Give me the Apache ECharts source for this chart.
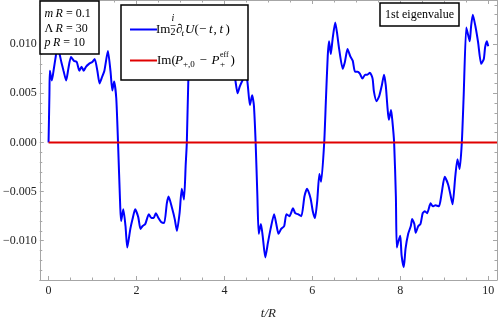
<!DOCTYPE html>
<html>
<head>
<meta charset="utf-8">
<script src="https://cdn.jsdelivr.net/npm/echarts@6/dist/echarts.min.js"></script>
<style>
  html, body { margin: 0; padding: 0; background: #fff; }
  #chart { width: 498px; height: 325px; }
</style>
</head>
<body>
<div id="chart"></div>
<script>
// blue curve: Im (i/2) d_t U(-t,t)
const blueT = [
  0, 0.02, 0.03, 0.075, 0.12, 0.165, 0.2, 0.24, 0.29, 0.34, 0.40, 0.45, 0.51, 0.58, 0.64, 0.70,
  0.75, 0.80, 0.85, 0.92, 0.995, 1.05, 1.11, 1.16, 1.22, 1.27, 1.35, 1.41, 1.45, 1.49, 1.54, 1.58,
  1.63, 1.65, 1.70, 1.75, 1.79, 1.86, 1.91, 1.97, 2.04, 2.09, 2.14, 2.20, 2.28, 2.34, 2.39, 2.44,
  2.50, 2.56, 2.63, 2.69, 2.73, 2.81, 2.87, 2.92, 2.98, 3.03, 3.08, 3.12, 3.145,
  3.18, 3.22, 3.30, 3.40, 3.50, 3.60, 3.70, 3.80, 3.90, 4.00, 4.10, 4.20, 4.25, 4.30, 4.35, 4.41,
  4.47, 4.52, 4.58, 4.63, 4.67, 4.71,
  4.75, 4.78, 4.83, 4.87, 4.93, 4.99, 5.05, 5.13, 5.18, 5.23, 5.29, 5.36, 5.41, 5.48, 5.56, 5.61,
  5.67, 5.75, 5.82, 5.88, 5.96, 6.01, 6.06, 6.11, 6.16, 6.20, 6.27,
  6.31, 6.35, 6.38, 6.42, 6.46, 6.52, 6.56, 6.61, 6.69, 6.74, 6.80, 6.86, 6.92, 6.97, 7.03, 7.08,
  7.14, 7.20, 7.25, 7.31, 7.37, 7.40, 7.46, 7.52, 7.58, 7.63, 7.67, 7.71, 7.74, 7.79, 7.82, 7.86,
  7.90, 7.92, 7.96, 8.00, 8.03, 8.08, 8.12, 8.18, 8.24, 8.27, 8.32, 8.35, 8.41, 8.46, 8.51, 8.56,
  8.61, 8.69, 8.74, 8.80, 8.88, 8.94, 9.01, 9.09, 9.14, 9.19, 9.25, 9.30, 9.35, 9.40,
  9.44, 9.50, 9.53, 9.58, 9.61, 9.65, 9.71, 9.77, 9.84, 9.90, 9.93, 9.97, 10.0
];
const blueV = [
  0, 0.0050, 0.0073, 0.0063, 0.0075, 0.0088, 0.0097, 0.0092, 0.0082, 0.0073, 0.0063, 0.0075, 0.0087, 0.0083, 0.0082, 0.0073,
  0.0077, 0.0073, 0.0077, 0.0080, 0.0082, 0.0085, 0.0073, 0.0060, 0.0067, 0.0073, 0.0093, 0.0072, 0.0053, 0.0062, 0.0045, 0,
  -0.0065, -0.0080, -0.0068, -0.0085, -0.0107, -0.0088, -0.0078, -0.0068, -0.0076, -0.0088, -0.0085, -0.0083, -0.0073, -0.0077, -0.0077, -0.0072,
  -0.0077, -0.0081, -0.0082, -0.0062, -0.0055, -0.0067, -0.0078, -0.0090, -0.0072, -0.0047, -0.0058, -0.0022, 0,
  0.0065, 0.0100, 0.0112, 0.0095, 0.0085, 0.0090, 0.0080, 0.0085, 0.0078, 0.0082, 0.0075, 0.0078, 0.0063, 0.0050, 0.0057, 0.0063,
  0.0068, 0.0063, 0.0038, 0.0048, 0.0038, 0,
  -0.0055, -0.0093, -0.0083, -0.0095, -0.0117, -0.0102, -0.0088, -0.0073, -0.0083, -0.0093, -0.0088, -0.0085, -0.0073, -0.0075, -0.0067, -0.0072,
  -0.0073, -0.0075, -0.0055, -0.0047, -0.0057, -0.0070, -0.0077, -0.0060, -0.0032, -0.0040, 0,
  0.0045, 0.0088, 0.0103, 0.0090, 0.0105, 0.0122, 0.0112, 0.0095, 0.0075, 0.0082, 0.0095, 0.0088, 0.0083, 0.0072, 0.0072, 0.0070,
  0.0065, 0.0069, 0.0069, 0.0071, 0.0065, 0.0052, 0.0042, 0.0047, 0.0058, 0.0069, 0.0058, 0.0035, 0.0023, 0.0033, 0.0022, 0,
  -0.0055, -0.0107, -0.0100, -0.0095, -0.0115, -0.0127, -0.0108, -0.0093, -0.0085, -0.0078, -0.0083, -0.0092, -0.0085, -0.0083, -0.0072, -0.0070,
  -0.0072, -0.0062, -0.0065, -0.0064, -0.0065, -0.0052, -0.0035, -0.0043, -0.0053, -0.0063, -0.0035, -0.0017, -0.0027, 0,
  0.0045, 0.0117, 0.0112, 0.0103, 0.0118, 0.0130, 0.0118, 0.0102, 0.0080, 0.0085, 0.0097, 0.0103, 0.0098
];
// red line: Im(P_{+,0} - P_+^eff)
const redT = [0, 10.2];
const redV = [0, 0];

const xRange = [-0.2, 10.2];
const yRange = [-0.014, 0.0145];

const serif = 'Liberation Serif';
const frameGray = '#a6a6a6';

const chart = echarts.init(document.getElementById('chart'));

const fmtY = (v) => {
  const s = Math.abs(v).toFixed(3);
  return v < -1e-9 ? '\u2212' + s : s;
};

const baseX = {
  type: 'value',
  min: xRange[0],
  max: xRange[1],
  splitLine: { show: false },
  axisLine: { onZero: false, lineStyle: { color: frameGray, width: 1 } },
  axisTick: { inside: true, length: 4, lineStyle: { color: frameGray } },
  minorTick: { show: true, splitNumber: 4, length: 2.5, lineStyle: { color: frameGray } }
};
const baseY = {
  type: 'value',
  min: yRange[0],
  max: yRange[1],
  splitLine: { show: false },
  axisLine: { show: true, onZero: false, lineStyle: { color: frameGray, width: 1 } },
  axisTick: { show: true, inside: true, length: 4, lineStyle: { color: frameGray } },
  minorTick: { show: true, splitNumber: 5, length: 2.5, lineStyle: { color: frameGray } }
};

// text piece helper for the boxed annotations
const txt = (x, y, text, size, italic, extra) => ({
  type: 'text',
  z: 101,
  x: x,
  y: y,
  style: Object.assign({
    text: text,
    fill: '#000',
    font: (italic ? 'italic ' : '') + size + 'px "' + serif + '"',
    verticalAlign: 'middle'
  }, extra || {})
});
const itRich = { i: { fontStyle: 'italic', fontFamily: serif, fontSize: 12 } };

option = {
  animation: false,
  grid: { left: 37, right: 1, top: 0, bottom: 40 },
  xAxis: [
    Object.assign({}, baseX, {
      position: 'bottom',
      axisLabel: {
        color: '#222', fontFamily: serif, fontSize: 12, margin: 5,
        showMinLabel: false, showMaxLabel: false
      },
      name: 't/R',
      nameLocation: 'middle',
      nameGap: 27,
      nameTextStyle: { fontFamily: serif, fontSize: 13, fontStyle: 'italic', color: '#222' }
    }),
    Object.assign({}, baseX, { position: 'top', axisLabel: { show: false } })
  ],
  yAxis: [
    Object.assign({}, baseY, {
      position: 'left',
      axisLabel: {
        color: '#222', fontFamily: serif, fontSize: 12, margin: 3,
        showMinLabel: false, showMaxLabel: false,
        formatter: fmtY
      }
    }),
    Object.assign({}, baseY, { position: 'right', axisLabel: { show: false } })
  ],
  series: [
    {
      name: 'blue',
      type: 'line',
      xAxisIndex: 0,
      yAxisIndex: 0,
      showSymbol: false,
      smooth: 0.2,
      lineStyle: { color: '#0000ff', width: 2 },
      data: blueT.map((t, i) => [t, blueV[i]]),
      z: 3
    },
    {
      name: 'red',
      type: 'line',
      xAxisIndex: 0,
      yAxisIndex: 0,
      showSymbol: false,
      lineStyle: { color: '#e00000', width: 2 },
      data: redT.map((t, i) => [t, redV[i]]),
      z: 4
    }
  ],
  graphic: [
    // parameter box
    { type: 'rect', z: 100, shape: { x: 40, y: 1, width: 59, height: 53 },
      style: { fill: '#fff', stroke: '#000', lineWidth: 1.5 } },
    txt(44.5, 13.5, '{i|m\u2009R} = 0.1', 12, false, { rich: itRich }),
    txt(44.5, 28.5, '\u039B\u2009{i|R} = 30', 12, false, { rich: itRich }),
    txt(44.5, 43, '{i|p\u2009R} = 10', 12, false, { rich: itRich }),

    // legend box
    { type: 'rect', z: 100, shape: { x: 121, y: 5, width: 127, height: 75 },
      style: { fill: '#fff', stroke: '#000', lineWidth: 1.5 } },
    { type: 'line', z: 101, shape: { x1: 130, y1: 29.5, x2: 157, y2: 29.5 },
      style: { stroke: '#0000ff', lineWidth: 2 } },
    { type: 'line', z: 101, shape: { x1: 130, y1: 60.5, x2: 157, y2: 60.5 },
      style: { stroke: '#e00000', lineWidth: 2 } },
    // Im (i/2) d_t U(-t, t)
    txt(156, 30, 'Im', 13, false),
    txt(173, 18, 'i', 10, true, { align: 'center' }),
    { type: 'line', z: 101, shape: { x1: 170.5, y1: 25.5, x2: 175.5, y2: 25.5 },
      style: { stroke: '#000', lineWidth: 0.6 } },
    txt(173, 32, '2', 10, false, { align: 'center' }),
    txt(176, 30, '\u2202', 13, false),
    txt(181.5, 34, 't', 9, true),
    txt(185, 30, 'U', 13, true),
    txt(194.5, 30, '(', 13, false),
    txt(199, 30, '\u2212', 13, false),
    txt(209, 30, 't', 13, true),
    txt(213.5, 30, ',', 13, false),
    txt(219.5, 30, 't', 13, true),
    txt(225.5, 30, ')', 13, false),
    // Im(P_{+,0} - P_+^eff)
    txt(157, 60.5, 'Im(', 13, false),
    txt(175, 60.5, 'P', 13, true),
    txt(183, 65, '+,0', 9, false),
    txt(199.5, 60.5, '\u2212', 13, false),
    txt(211.5, 60.5, 'P', 13, true),
    txt(220, 55, 'eff', 8, false),
    txt(220, 65, '+', 9, false),
    txt(230.5, 60.5, ')', 13, false),

    // eigenvalue box
    { type: 'rect', z: 100, shape: { x: 380, y: 3, width: 79, height: 23 },
      style: { fill: '#fff', stroke: '#000', lineWidth: 1.5 } },
    txt(419.5, 15, '1st eigenvalue', 12, false, { align: 'center' })
  ]
};

chart.setOption(option);
</script>
</body>
</html>
